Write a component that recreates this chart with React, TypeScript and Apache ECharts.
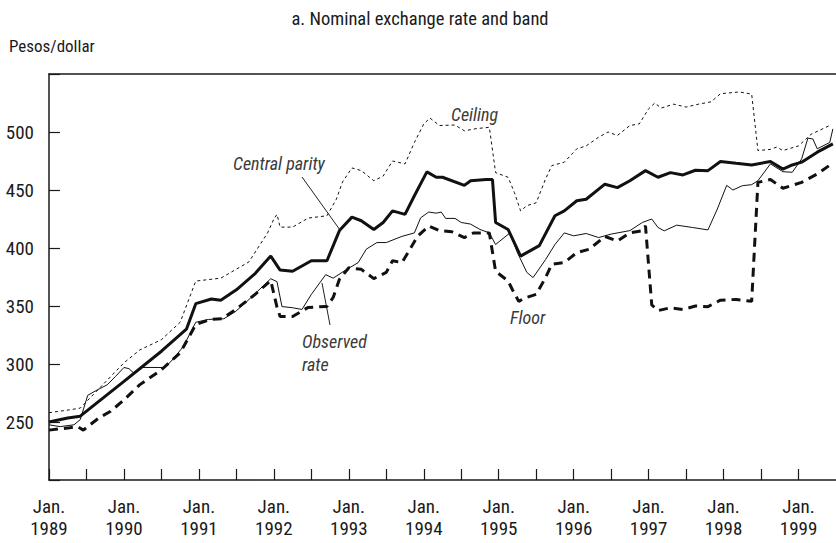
import React, { useEffect, useRef } from "react";
import * as echarts from "echarts";

// x = months since Jan. 1989, y = pesos per dollar
const ceiling: [number, number][] = [
  [0, 258], [3.3, 260.5], [5, 262], [12, 301], [14.5, 312], [18, 321], [21, 336], [23.5, 371.5],
  [27.5, 374], [32, 388], [35, 413], [36, 425], [36.5, 429], [37, 418], [39, 418], [41.5, 425.8],
  [44.5, 427.8], [46, 442], [47, 457], [48.5, 469], [50, 466.7], [52, 458], [53.5, 462], [55, 475],
  [57, 472.5], [58.5, 491], [60, 507], [61, 512], [62.5, 505.6], [65, 506], [66.5, 501], [68.5, 503],
  [70.5, 504], [71.5, 465], [73.5, 461], [74.5, 448], [75.5, 432], [76.5, 436.5], [78, 439],
  [79.5, 459.5], [80.5, 471], [82.5, 474], [84.5, 485.5], [86, 488], [88, 495.5], [89.5, 500],
  [91, 497], [93, 505.6], [94.5, 507], [96, 520], [97, 525], [98, 520.6], [100, 524], [102, 521.5],
  [104, 524], [106, 526], [107.5, 533], [109.5, 534], [110.5, 534.5], [112.5, 532.7], [113.5, 484],
  [115.5, 485], [116.5, 487], [117.5, 484], [120, 488], [122, 498], [125, 505.6],
];

const centralParity: [number, number][] = [
  [0, 250], [3, 253.5], [5, 255], [12, 285], [18, 311], [22, 330], [23.5, 352], [26, 356],
  [27.5, 355], [30, 364], [33, 378], [35.5, 393], [37, 381], [39, 380], [42, 389], [44.5, 389],
  [46.5, 415], [48.5, 426.6], [50, 423.5], [52, 416], [53.5, 422], [55, 432], [57, 429], [58.5, 445],
  [60.5, 465.6], [62, 461], [63, 461], [66.5, 454], [67.5, 458], [70, 459], [71, 459], [71.5, 422],
  [73.5, 416], [75.5, 393], [77, 397.5], [78.5, 402], [81, 427.8], [82.5, 432], [84.5, 440.7],
  [86, 442], [89, 455], [91, 452], [93, 458], [95.5, 466.7], [97.5, 461], [99.5, 465], [101.5, 463],
  [103.5, 467], [105.5, 466.7], [107.5, 474.5], [110, 473], [112.5, 471.6], [115.5, 474.5],
  [117.5, 468], [119, 471.6], [120.5, 474], [123, 482.6], [125.5, 489.8],
];

const floor: [number, number][] = [
  [0, 243], [3.3, 245], [4.6, 246], [5.5, 243], [8, 253.6], [9.8, 259], [12, 269], [14.5, 282],
  [18, 295], [21, 309.6], [23.5, 334], [25.8, 338.4], [27.7, 339], [29.9, 347], [33, 360],
  [35.5, 372], [36.5, 349], [37, 341], [39, 341], [41.5, 348.8], [44.5, 349.6], [45.5, 357.4],
  [46.5, 373], [48, 383], [50, 381.6], [52, 373.6], [54, 379], [55, 389], [56.5, 387.4], [57.8, 399],
  [59, 410], [60.8, 419], [62.5, 415], [64.5, 414], [66.5, 409], [68, 413], [70.5, 413], [71.5, 380],
  [73.5, 371.5], [74.2, 364], [75.2, 354], [76.2, 357], [78, 360], [79.5, 374.5], [80.5, 386],
  [82.5, 387.4], [84.5, 396], [86.5, 399], [89, 410], [91, 406], [93, 413], [95, 415], [95.5, 419],
  [96.5, 351], [97.5, 346], [99.5, 348.5], [101.5, 347], [103.5, 350], [105.5, 349.4], [107.5, 355],
  [110, 355.7], [112.5, 354], [113.5, 456.6], [115.5, 459], [117.5, 451.5], [119, 454],
  [120.5, 456.6], [123, 463.8], [125.3, 472.5],
];

const observed: [number, number][] = [
  [0, 247.6], [1.8, 246], [4, 247.6], [5, 252], [6.2, 273], [7.5, 277], [9.3, 282], [10.6, 289],
  [12, 297], [12.8, 296], [13.5, 292.5], [15, 297], [18.5, 297], [19.5, 302], [21.5, 315],
  [23.5, 336], [25.5, 338.4], [28, 339], [29.8, 345], [31.5, 353], [35.5, 373.5], [36.5, 371],
  [37.3, 349.5], [39, 348.5], [40.5, 347], [42, 360], [44.3, 377], [45.5, 374], [47.5, 381],
  [49.5, 387.4], [50.8, 399], [52.5, 404.7], [54, 404.7], [56.5, 410], [58.5, 413], [59.5, 426],
  [60.8, 431], [62, 430], [62.8, 431], [63.5, 425.5], [65, 425.5], [66, 422], [67.5, 420.6],
  [69, 416], [70.5, 413], [71.5, 403], [73.8, 413], [75, 396], [76.5, 379], [77.5, 374.5],
  [79.5, 390], [81, 403], [82.5, 413], [84, 410.5], [86, 412.5], [88, 409], [90, 412], [93, 415],
  [95, 422], [96.5, 425], [97.5, 417.7], [98.5, 414.8], [100.5, 419.7], [103, 417.7], [105.5, 415.6],
  [107, 433.6], [108.5, 454], [109.5, 450], [111, 453.7], [112.5, 454.6], [113.5, 458],
  [115.5, 472.5], [117.5, 465.8], [119, 465.3], [120.5, 476.8], [121.5, 494.7], [122.3, 494],
  [123, 485.5], [125, 491], [125.5, 502.7],
];

const startYear = 1989;
const yTicks = [250, 300, 350, 400, 450, 500];

const FONT = '"Roboto Condensed", "Liberation Sans", sans-serif';
const INK = "#1a1a1a";
const NOTE = "#3a3a3a";

export default function App() {
  const ref = useRef<HTMLDivElement>(null);
  useEffect(() => {
    document.body.style.margin = "0";
    if (!ref.current) return;
    const chart = echarts.init(ref.current, undefined, { renderer: "svg" });
    const noteText = (text: string, x: number, y: number) => ({
      type: "text",
      x,
      y,
      style: {
        text,
        fill: NOTE,
        font: `italic 18px ${FONT}`,
        textAlign: "left",
        textVerticalAlign: "middle",
        lineHeight: 23,
      },
    });
    chart.setOption({
      animation: false,
      backgroundColor: "#ffffff",
      grid: { left: 49, right: 0, top: 74, bottom: 63, containLabel: false },
      xAxis: [
        {
          type: "value",
          min: 0,
          max: 126,
          interval: 6,
          axisLine: { show: true, lineStyle: { color: INK, width: 1.5 } },
          axisTick: { show: true, inside: true, length: 11, lineStyle: { color: INK, width: 1.2 } },
          splitLine: { show: false },
          axisLabel: {
            show: true,
            margin: 15,
            color: INK,
            fontFamily: FONT,
            fontSize: 19,
            lineHeight: 22,
            showMaxLabel: false,
            formatter: (v: number) =>
              v % 12 === 0 ? `Jan.\n${startYear + v / 12}` : "",
          },
        },
        {
          type: "value",
          position: "top",
          min: 0,
          max: 126,
          axisLine: { show: true, lineStyle: { color: INK, width: 1.5 } },
          axisTick: { show: false },
          axisLabel: { show: false },
          splitLine: { show: false },
        },
      ],
      yAxis: {
        type: "value",
        min: 200,
        max: 550,
        interval: 50,
        axisLine: { show: true, lineStyle: { color: INK, width: 1.5 } },
        axisTick: { show: true, inside: true, length: 11, lineStyle: { color: INK, width: 1.2 } },
        splitLine: { show: false },
        axisLabel: {
          margin: 15,
          color: INK,
          fontFamily: FONT,
          fontSize: 19,
          formatter: (v: number) => (yTicks.includes(v) ? String(v) : ""),
        },
      },
      series: [
        {
          name: "Ceiling",
          type: "line",
          data: ceiling,
          showSymbol: false,
          lineStyle: { color: "#111", width: 1, type: [3, 3] },
        },
        {
          name: "Floor",
          type: "line",
          data: floor,
          showSymbol: false,
          lineStyle: { color: "#111", width: 3, type: [9, 6] },
        },
        {
          name: "Central parity",
          type: "line",
          data: centralParity,
          showSymbol: false,
          lineStyle: { color: "#111", width: 3 },
        },
        {
          name: "Observed rate",
          type: "line",
          data: observed,
          showSymbol: false,
          lineStyle: { color: "#111", width: 1 },
        },
      ],
      graphic: [
        {
          type: "text",
          x: 420,
          y: 19,
          style: {
            text: "a. Nominal exchange rate and band",
            fill: INK,
            font: `18.5px ${FONT}`,
            textAlign: "center",
            textVerticalAlign: "middle",
          },
        },
        {
          type: "text",
          x: 9,
          y: 46,
          style: {
            text: "Pesos/dollar",
            fill: INK,
            font: `17px ${FONT}`,
            textAlign: "left",
            textVerticalAlign: "middle",
          },
        },
        noteText("Central parity", 233, 163),
        noteText("Ceiling", 451, 114),
        noteText("Floor", 510, 317),
        noteText("Observed\nrate", 302, 353),
        {
          type: "line",
          shape: { x1: 302, y1: 177, x2: 340, y2: 230 },
          style: { stroke: "#222", lineWidth: 1 },
        },
        {
          type: "line",
          shape: { x1: 322, y1: 283, x2: 330, y2: 325 },
          style: { stroke: "#222", lineWidth: 1 },
        },
      ],
    });
    return () => chart.dispose();
  }, []);
  return <div ref={ref} style={{ width: 836, height: 543 }} />;
}
